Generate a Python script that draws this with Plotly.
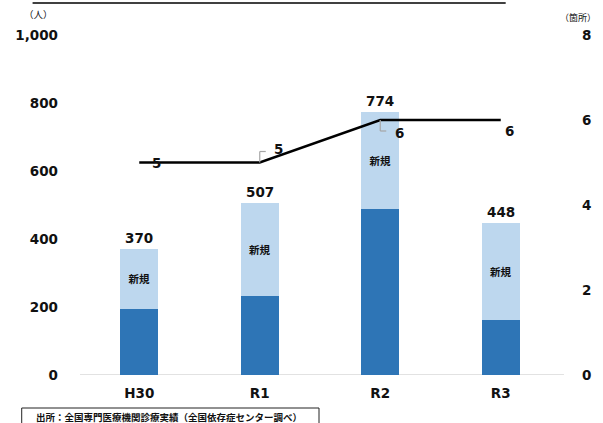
import plotly.graph_objects as go

# Fiscal years
years = ["H30", "R1", "R2", "R3"]
# Patients (persons): total and continuing portion; the rest are new patients (新規)
total_patients = [370, 507, 774, 448]
continuing_patients = [195, 233, 489, 162]
new_patients = [t - c for t, c in zip(total_patients, continuing_patients)]
# Number of specialist facilities (箇所)
facilities = [5, 5, 6, 6]

left_ticks = [0, 200, 400, 600, 800, 1000]
right_ticks = [0, 2, 4, 6, 8]

DARK = "#2E75B6"
LIGHT = "#BDD7EE"
FONT = "DejaVu Sans"
CJK = "Noto Sans CJK JP"

# plot area in pixels: left 79, right 567, top 35, bottom 375
PL, PW, PB, PH = 79, 488, 375, 340


def px(x):
    return (x - PL) / PW


def py(y):
    return (PB - y) / PH


fig = go.Figure()

fig.add_trace(go.Bar(
    x=years, y=continuing_patients, marker=dict(color=DARK, line=dict(width=0)),
    yaxis="y", showlegend=False, hoverinfo="skip",
))
fig.add_trace(go.Bar(
    x=years, y=new_patients, marker=dict(color=LIGHT, line=dict(width=0)),
    text=["新規"] * len(years), textposition="inside", insidetextanchor="middle",
    textangle=0, textfont=dict(family=CJK, size=10.5, color="#111", weight="bold"),
    yaxis="y", showlegend=False, hoverinfo="skip",
))
fig.add_trace(go.Scatter(
    x=years, y=facilities, mode="lines", line=dict(color="#000", width=2.5),
    yaxis="y2", showlegend=False, hoverinfo="skip",
))

# Totals above the stacked bars
for yr, tot in zip(years, total_patients):
    fig.add_annotation(x=yr, y=tot, yref="y", text=str(tot), showarrow=False,
                       yanchor="bottom", yshift=1,
                       font=dict(family=FONT, size=13.5, color="#111", weight="bold"))

# Facility count labels next to the line points
label_offsets = [(17, 0), (19, 14), (19, -13), (9, -11)]
for yr, v, (dx, dy) in zip(years, facilities, label_offsets):
    fig.add_annotation(x=yr, y=v, yref="y2", text=str(v), showarrow=False,
                       xshift=dx, yshift=dy,
                       font=dict(family=FONT, size=13.5, color="#111", weight="bold"))

# Leader lines for the R1 and R2 labels
leaders = [
    (1, facilities[1], [(0, 0, 0, 11), (0, 11, 6, 11)]),
    (2, facilities[2], [(0, 0, 0, -11), (0, -11, 6, -11)]),
]
for xi, yv, segs in leaders:
    for x0, y0, x1, y1 in segs:
        fig.add_shape(type="line", xref="x", yref="y2",
                      xsizemode="pixel", ysizemode="pixel",
                      xanchor=xi, yanchor=yv, x0=x0, x1=x1, y0=y0, y1=y1,
                      line=dict(color="#A6A6A6", width=1.2))

# Category axis baseline
fig.add_shape(type="line", xref="paper", yref="y", x0=px(80), x1=px(570), y0=0, y1=0,
              line=dict(color="#D9D9D9", width=1.3), layer="below")

# Top rule
fig.add_shape(type="line", xref="paper", yref="paper",
              x0=px(32), x1=px(511), y0=py(3), y1=py(3),
              line=dict(color="#000", width=1.5))

# Axis unit labels
fig.add_annotation(xref="paper", yref="paper", x=px(38), y=py(14),
                   xanchor="center", yanchor="middle",
                   text="（人）", showarrow=False,
                   font=dict(family=CJK, size=9.5, color="#111"))
fig.add_annotation(xref="paper", yref="paper", x=px(584), y=py(18),
                   xanchor="center", yanchor="middle",
                   text="（箇所）", showarrow=False,
                   font=dict(family=CJK, size=9, color="#111"))

# Source note in a box
fig.add_shape(type="rect", xref="paper", yref="paper",
              x0=px(21), x1=px(322), y0=py(430), y1=py(408),
              line=dict(color="#222", width=1), fillcolor="white")
fig.add_annotation(xref="paper", yref="paper", x=px(170), y=py(416.5),
                   xanchor="center", yanchor="middle",
                   text="出所：全国専門医療機関診療実績（全国依存症センター調べ）",
                   showarrow=False,
                   font=dict(family=CJK, size=9.5, color="#111", weight="bold"))

fig.update_layout(
    width=603, height=423,
    margin=dict(l=79, r=36, t=35, b=48),
    paper_bgcolor="white", plot_bgcolor="white",
    barmode="stack", bargap=0.685,
    xaxis=dict(showline=False, showgrid=False, ticks="", ticklabelstandoff=8,
               tickfont=dict(family=FONT, size=13.5, color="#111", weight="bold")),
    yaxis=dict(range=[0, 1000], tickvals=left_ticks, tickformat=",",
               showgrid=False, zeroline=False, showline=False, ticks="",
               ticklabelstandoff=20,
               tickfont=dict(family=FONT, size=13.5, color="#111", weight="bold")),
    yaxis2=dict(range=[0, 8], tickvals=right_ticks, overlaying="y", side="right",
                showgrid=False, zeroline=False, showline=False, ticks="",
                ticklabelstandoff=20,
                tickfont=dict(family=FONT, size=13.5, color="#111", weight="bold")),
)

fig.write_html("out.html")
